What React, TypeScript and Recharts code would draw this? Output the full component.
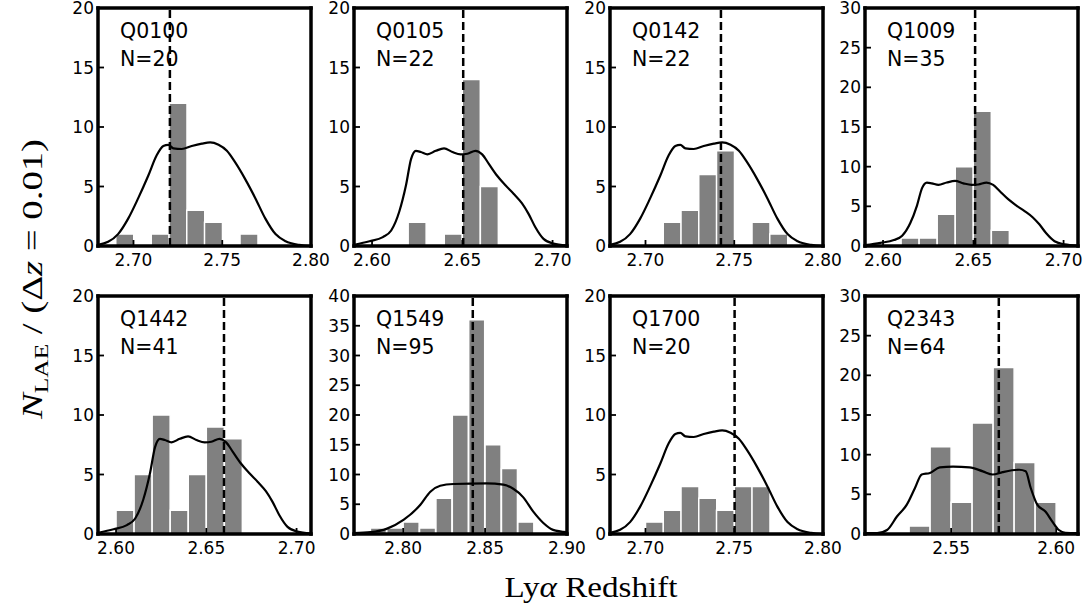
import { ComposedChart, Bar, Line, XAxis, YAxis, ReferenceLine } from "recharts";

const fields = ["Q0100", "Q0105", "Q0142", "Q1009", "Q1442", "Q1549", "Q1700", "Q2343"];
const nLAE = [20, 22, 22, 35, 41, 95, 20, 64];
const zQSO = [2.7205, 2.6505, 2.7425, 2.651, 2.6598, 2.8425, 2.7502, 2.5727];
const zLo = [2.68, 2.59, 2.68, 2.59, 2.59, 2.77, 2.68, 2.509];
const zHi = [2.8, 2.708, 2.8, 2.708, 2.708, 2.9, 2.8, 2.6104];
const nMax = [20, 20, 20, 30, 20, 40, 20, 30];
const zTicks = [
  [2.7, 2.75, 2.8],
  [2.6, 2.65, 2.7],
  [2.7, 2.75, 2.8],
  [2.6, 2.65, 2.7],
  [2.6, 2.65, 2.7],
  [2.8, 2.85, 2.9],
  [2.7, 2.75, 2.8],
  [2.55, 2.6],
];

// histogram bin centres (dz = 0.01) and counts
const binZ = [
  [2.695, 2.715, 2.725, 2.735, 2.745, 2.765],
  [2.625, 2.645, 2.655, 2.665],
  [2.715, 2.725, 2.735, 2.745, 2.765, 2.775],
  [2.615, 2.625, 2.635, 2.645, 2.655, 2.665],
  [2.605, 2.615, 2.625, 2.635, 2.645, 2.655, 2.665],
  [2.785, 2.795, 2.805, 2.815, 2.825, 2.835, 2.845, 2.855, 2.865, 2.875],
  [2.705, 2.715, 2.725, 2.735, 2.745, 2.755, 2.765],
  [2.535, 2.545, 2.555, 2.565, 2.575, 2.585, 2.595],
];
const binN = [
  [1, 1, 12, 3, 2, 1],
  [2, 1, 14, 5],
  [2, 3, 6, 8, 2, 1],
  [1, 1, 4, 10, 17, 2],
  [2, 5, 10, 2, 5, 9, 8],
  [1, 1, 2, 1, 6, 20, 36, 15, 11, 2],
  [1, 2, 4, 3, 2, 4, 4],
  [1, 11, 4, 14, 21, 9, 4],
];

// narrow-band filter curves (scaled)
const filtAz = [2.68, 2.6857, 2.6913, 2.697, 2.7026, 2.7083, 2.713, 2.7168, 2.7196, 2.7225, 2.7272, 2.7328, 2.7385, 2.7432, 2.7479, 2.7526, 2.7574, 2.763, 2.7687, 2.7743, 2.78, 2.7857, 2.7932, 2.8];
const filtAt = [0.1, 0.35, 1.0, 2.3, 4.0, 5.9, 7.6, 8.4, 8.5, 8.2, 8.15, 8.4, 8.6, 8.7, 8.5, 8.0, 7.0, 5.6, 4.0, 2.3, 1.0, 0.4, 0.1, 0.0];
const filtBz = [2.59, 2.5986, 2.606, 2.6106, 2.6151, 2.6188, 2.6216, 2.6243, 2.627, 2.6307, 2.6353, 2.6399, 2.6445, 2.6491, 2.6528, 2.6573, 2.661, 2.6647, 2.6693, 2.6739, 2.6784, 2.683, 2.6867, 2.6904, 2.695, 2.7005, 2.7076];
const filtBt = [0.1, 0.4, 0.75, 1.3, 2.9, 5.1, 7.3, 8.0, 7.9, 7.7, 8.0, 8.2, 7.9, 7.7, 7.75, 8.0, 7.7, 6.9, 5.9, 5.1, 4.4, 3.6, 2.7, 1.6, 0.6, 0.2, 0.05];
const filtCz = [2.77, 2.7801, 2.7902, 2.8004, 2.8105, 2.8166, 2.8226, 2.8307, 2.851, 2.8611, 2.8672, 2.8732, 2.8793, 2.8854, 2.8915, 2.9];
const filtCt = [0.15, 0.3, 0.9, 2.4, 4.9, 7.1, 8.1, 8.4, 8.5, 8.3, 7.6, 6.2, 3.8, 1.9, 0.7, 0.3];
const filtDz = [2.5094, 2.5148, 2.5195, 2.5242, 2.5289, 2.5328, 2.536, 2.5399, 2.5446, 2.5509, 2.5588, 2.5651, 2.5698, 2.5745, 2.5824, 2.5855, 2.5879, 2.591, 2.595, 2.5981, 2.6013, 2.6044, 2.6104];
const filtDt = [0.1, 0.1, 0.5, 2.2, 3.7, 5.8, 7.5, 7.7, 8.4, 8.5, 8.4, 7.9, 7.5, 7.8, 8.1, 7.9, 5.8, 3.7, 2.8, 1.6, 0.5, 0.15, 0.1];

const filterZ = [filtAz, filtBz, filtAz, filtBz, filtBz, filtCz, filtAz, filtDz];
const filterT = [filtAt, filtBt, filtAt, filtBt, filtBt, filtCt, filtAt, filtDt];

const colLeft = [98, 354, 610, 865];
const rowTop = [8, 296];
const PW = 213;
const PH = 238;
const tickFont = { fill: "#000", fontSize: 17, fontFamily: "DejaVu Sans" };
const frame = { stroke: "#000", strokeWidth: 3.5, strokeLinecap: "square" as const };
const tickMark = { stroke: "#000", strokeWidth: 1.8 };

function Panel({ k }: { k: number }) {
  const px = colLeft[k % 4];
  const py = rowTop[Math.floor(k / 4)];
  const bins = binZ[k].map((z, j) => ({ z, n: binN[k][j] }));
  const curve = filterZ[k].map((z, j) => ({ z, t: filterT[k][j] }));
  const yTicks: number[] = [];
  for (let v = 0; v <= nMax[k]; v += 5) yTicks.push(v);
  const dom = [zLo[k], zHi[k]];
  return (
    <div style={{ position: "absolute", left: px - 50, top: py - 10 }}>
      <ComposedChart
        width={50 + PW + 40}
        height={10 + PH + 34}
        data={bins}
        margin={{ top: 9, right: 39, bottom: 0, left: 0 }}
        barCategoryGap={0}
        barGap={0}
      >
        <Bar xAxisId="bot" yAxisId="left" dataKey="n" fill="#808080" stroke="#fff" strokeWidth={1.5} isAnimationActive={false} />
        <Line xAxisId="top" yAxisId="right" data={curve} dataKey="t" type="monotone" stroke="#000" strokeWidth={2.2} dot={false} isAnimationActive={false} />
        <ReferenceLine xAxisId="bot" yAxisId="left" x={zQSO[k]} stroke="#000" strokeWidth={2.5} strokeDasharray="8 4" />
        <XAxis
          xAxisId="bot" dataKey="z" type="number" domain={dom} allowDataOverflow
          ticks={zTicks[k]} interval={0} tickFormatter={(v: number) => v.toFixed(2)}
          tick={tickFont} tickSize={-6} tickMargin={14} height={34}
          stroke="#000" axisLine={frame} tickLine={tickMark}
        />
        <XAxis
          xAxisId="top" orientation="top" dataKey="z" type="number" domain={dom} allowDataOverflow
          ticks={zTicks[k]} interval={0} tick={false} tickSize={-6} height={1}
          stroke="#000" axisLine={frame} tickLine={tickMark}
        />
        <YAxis
          yAxisId="left" type="number" domain={[0, nMax[k]]} allowDataOverflow ticks={yTicks} interval={0}
          tick={tickFont} tickSize={-6} tickMargin={10} width={50}
          stroke="#000" axisLine={frame} tickLine={tickMark}
        />
        <YAxis
          yAxisId="right" orientation="right" type="number" domain={[0, nMax[k]]} allowDataOverflow ticks={yTicks} interval={0}
          tick={false} tickSize={-6} width={1}
          stroke="#000" axisLine={frame} tickLine={tickMark}
        />
      </ComposedChart>
    </div>
  );
}

export default function App() {
  return (
    <div style={{ position: "absolute", left: 0, top: 0, width: 1088, height: 613, background: "#fff" }}>
      {fields.map((_, k) => (
        <Panel key={k} k={k} />
      ))}
      <svg width={1088} height={613} style={{ position: "absolute", left: 0, top: 0, pointerEvents: "none" }}>
        {fields.map((f, k) => {
          const x = colLeft[k % 4] + 22;
          const y = rowTop[Math.floor(k / 4)];
          return (
            <g key={f} fontFamily="DejaVu Sans" fontSize={20.5} fill="#000">
              <text x={x} y={y + 30}>{f}</text>
              <text x={x} y={y + 58}>N={nLAE[k]}</text>
            </g>
          );
        })}
        <text x={591} y={597} textAnchor="middle" fontFamily="Liberation Serif" fontSize={29} fill="#000" textLength={173} lengthAdjust="spacingAndGlyphs">
          <tspan>Ly</tspan>
          <tspan fontStyle="italic">α</tspan>
          <tspan> Redshift</tspan>
        </text>
        <text transform="rotate(-90)" x={-279} y={42} textAnchor="middle" fontFamily="Liberation Serif" fontSize={29} fill="#000" textLength={280} lengthAdjust="spacingAndGlyphs">
          <tspan fontStyle="italic">N</tspan>
          <tspan fontSize={19} dy={6}>LAE</tspan>
          <tspan dy={-6}> / (Δ</tspan>
          <tspan fontStyle="italic">z</tspan>
          <tspan> = 0.01)</tspan>
        </text>
      </svg>
    </div>
  );
}
